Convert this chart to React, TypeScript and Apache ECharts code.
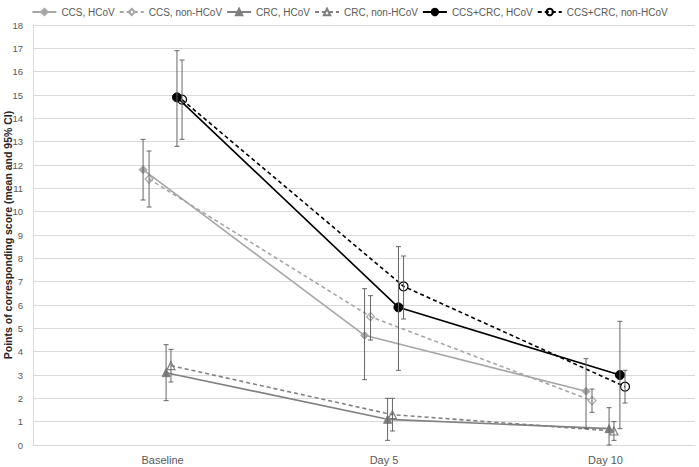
import React, { useEffect, useRef } from "react";
import * as echarts from "echarts";

const categories = ["Baseline", "Day 5", "Day 10"];
const seriesNames = [
  "CCS, HCoV",
  "CCS, non-HCoV",
  "CRC, HCoV",
  "CRC, non-HCoV",
  "CCS+CRC, HCoV",
  "CCS+CRC, non-HCoV",
];
// means
const ccsHcov = [11.8, 4.7, 2.3];
const ccsNon = [11.4, 5.5, 1.9];
const crcHcov = [3.1, 1.1, 0.7];
const crcNon = [3.4, 1.3, 0.6];
const bothHcov = [14.9, 5.9, 3.0];
const bothNon = [14.8, 6.8, 2.5];
// 95% CI lower / upper
const ccsHcovLo = [10.5, 2.8, 0.7];
const ccsHcovHi = [13.1, 6.7, 3.7];
const ccsNonLo = [10.2, 4.5, 1.4];
const ccsNonHi = [12.6, 6.4, 2.4];
const crcHcovLo = [1.9, 0.2, 0.0];
const crcHcovHi = [4.3, 2.0, 1.6];
const crcNonLo = [2.7, 0.6, 0.2];
const crcNonHi = [4.1, 2.0, 1.0];
const bothHcovLo = [12.8, 3.2, 0.7];
const bothHcovHi = [16.9, 8.5, 5.3];
const bothNonLo = [13.1, 5.4, 1.8];
const bothNonHi = [16.5, 8.1, 3.2];
const yTicks = [0, 1, 2, 3, 4, 5, 6, 7, 8, 9, 10, 11, 12, 13, 14, 15, 16, 17, 18];

const means = [ccsHcov, ccsNon, crcHcov, crcNon, bothHcov, bothNon];
const lows = [ccsHcovLo, ccsNonLo, crcHcovLo, crcNonLo, bothHcovLo, bothNonLo];
const highs = [ccsHcovHi, ccsNonHi, crcHcovHi, crcNonHi, bothHcovHi, bothNonHi];

// layout: horizontal stagger of each series within a category
const offsets = [-0.088, -0.061, 0.016, 0.038, 0.065, 0.088];
const styles = [
  { color: "#a6a6a6", dash: "solid", symbol: "diamond", filled: true, size: 8 },
  { color: "#a6a6a6", dash: [4, 3], symbol: "diamond", filled: false, size: 8 },
  { color: "#808080", dash: "solid", symbol: "triangle", filled: true, size: 8 },
  { color: "#808080", dash: [4, 3], symbol: "triangle", filled: false, size: 8 },
  { color: "#000000", dash: "solid", symbol: "circle", filled: true, size: 9 },
  { color: "#000000", dash: [4, 3], symbol: "circle", filled: false, size: 9 },
];

const FONT = "Liberation Sans, Arial, sans-serif";

export default function App() {
  const ref = useRef<HTMLDivElement>(null);
  useEffect(() => {
    if (!ref.current) return;
    const chart = echarts.init(ref.current, null, { renderer: "svg" });
    const lineSeries = seriesNames.map((name, s) => {
      const st = styles[s];
      return {
        name,
        type: "line",
        z: 3,
        data: means[s].map((v, i) => [i + offsets[s], v]),
        symbol: st.symbol,
        symbolSize: st.size,
        lineStyle: { color: st.color, width: 1.6, type: st.dash },
        itemStyle: st.filled
          ? { color: st.color, borderColor: st.color, borderWidth: 1 }
          : { color: "rgba(255,255,255,0)", borderColor: st.color, borderWidth: 1.2 },
      };
    });
    const errSeries = seriesNames.map((name, s) => ({
      name: name + " CI",
      type: "custom",
      z: 4,
      encode: { x: 0, y: [1, 2] },
      data: means[s].map((_, i) => [i + offsets[s], lows[s][i], highs[s][i]]),
      renderItem: (params: any, api: any) => {
        const x = api.value(0);
        const lo = api.coord([x, api.value(1)]);
        const hi = api.coord([x, api.value(2)]);
        const w = 2.5;
        const style = { stroke: "#666666", lineWidth: 1 };
        return {
          type: "group",
          children: [
            { type: "line", shape: { x1: lo[0], y1: lo[1], x2: hi[0], y2: hi[1] }, style },
            { type: "line", shape: { x1: lo[0] - w, y1: lo[1], x2: lo[0] + w, y2: lo[1] }, style },
            { type: "line", shape: { x1: hi[0] - w, y1: hi[1], x2: hi[0] + w, y2: hi[1] }, style },
          ],
        };
      },
    }));
    chart.setOption({
      animation: false,
      backgroundColor: "#ffffff",
      textStyle: { fontFamily: FONT },
      legend: {
        data: seriesNames,
        top: 2,
        left: "center",
        itemWidth: 24,
        itemHeight: 8,
        itemGap: 4,
        textStyle: { fontSize: 10, color: "#595959", fontFamily: FONT },
      },
      grid: { left: 33, right: 4, top: 25, bottom: 22, containLabel: false, outerBoundsMode: "none" },
      xAxis: {
        type: "value",
        min: -0.585,
        max: 2.404,
        splitLine: { show: false },
        axisTick: { show: false },
        axisLine: { show: true, onZero: false, lineStyle: { color: "#d9d9d9", width: 1 } },
        axisLabel: {
          customValues: [0, 1, 2],
          formatter: (v: number) => categories[Math.round(v)] ?? "",
          fontSize: 11,
          color: "#595959",
          margin: 9,
          fontFamily: FONT,
        },
      },
      yAxis: {
        type: "value",
        min: yTicks[0],
        max: yTicks[yTicks.length - 1],
        interval: 1,
        name: "Points of corresponding score (mean and 95% CI)",
        nameLocation: "middle",
        nameGap: 20,
        nameMoveOverlap: false,
        nameTextStyle: {
          fontSize: 10.5,
          fontWeight: "bold",
          color: "#262626",
          fontFamily: FONT,
        },
        axisLine: { show: true, onZero: false, lineStyle: { color: "#d9d9d9", width: 1 } },
        axisTick: { show: false },
        splitLine: { lineStyle: { color: "#d9d9d9", width: 1 } },
        axisLabel: {
          fontSize: 9.5,
          color: "#595959",
          margin: 10,
          fontFamily: FONT,
        },
      },
      series: [...errSeries, ...lineSeries],
    });
    return () => chart.dispose();
  }, []);
  return <div ref={ref} style={{ width: 699, height: 467, position: "absolute", left: 0, top: 0 }} />;
}
